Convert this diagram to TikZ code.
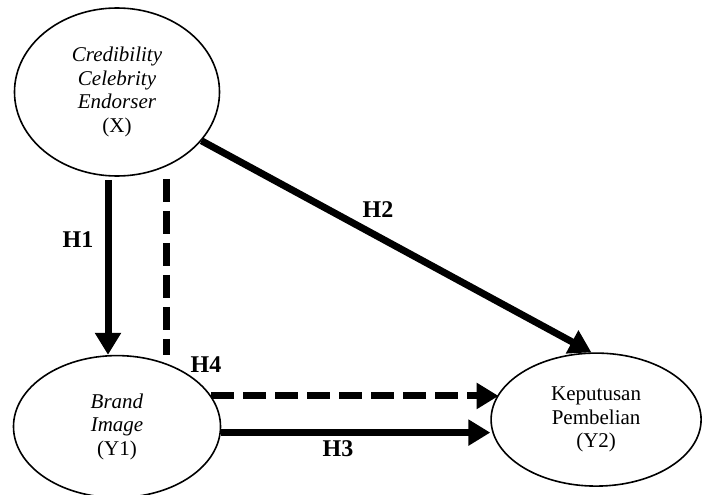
\documentclass[tikz,border=0pt]{standalone}
\usepackage{fontspec}
\setmainfont{Liberation Serif}
\usetikzlibrary{shapes.geometric,arrows.meta,positioning}

\begin{document}
\begin{tikzpicture}[x=1pt,y=-1pt]
\tikzstyle{var} = [ellipse, draw, line width=1.6pt, inner sep=0pt,
    align=center, font=\fontsize{21}{23.5}\selectfont]
\tikzstyle{hyp} = [font=\fontsize{24}{26}\selectfont\bfseries]
\tikzstyle{line} = [draw, line width=7pt, -{Triangle[length=22pt,width=25pt]}]
\tikzstyle{dline} = [line, dash pattern=on 23pt off 9pt]

\useasboundingbox (0,0) rectangle (702,495);

\node [var, minimum width=205pt, minimum height=168pt] (x) at (117,92)
    {\textit{Credibility}\\\textit{Celebrity}\\\textit{Endorser}\\(X)};
\node [var, minimum width=207pt, minimum height=142pt, below=178pt of x] (y1)
    {\textit{Brand}\\\textit{Image}\\(Y1)};
\node [var, minimum width=210pt, minimum height=133pt, right=269pt of y1, yshift=7pt] (y2)
    {\raisebox{-6pt}{\begin{tabular}{@{}c@{}}Keputusan\\Pembelian\\(Y2)\end{tabular}}};

\path [line, shorten <=3pt] ([xshift=-9pt]x.south) -- ([xshift=-9pt]y1.north);
\path [dline, -, shorten <=2pt] ([xshift=49pt]x.south) -- ([xshift=49pt]y1.north);
\path [line] (x.-30) -- (y2.94);
\path [dline] (y1.18) -- (y1.18 -| y2.165);
\path [line] ([yshift=-6pt]y1.east) -- ([yshift=-6pt]y1.east -| y2.west);

\node [hyp] (h1) at (78,240) {H1};
\node [hyp] (h2) at (378,210) {H2};
\node [hyp] (h4) at (206,365) {H4};
\node [hyp] (h3) at (338,449) {H3};

\end{tikzpicture}
\end{document}
